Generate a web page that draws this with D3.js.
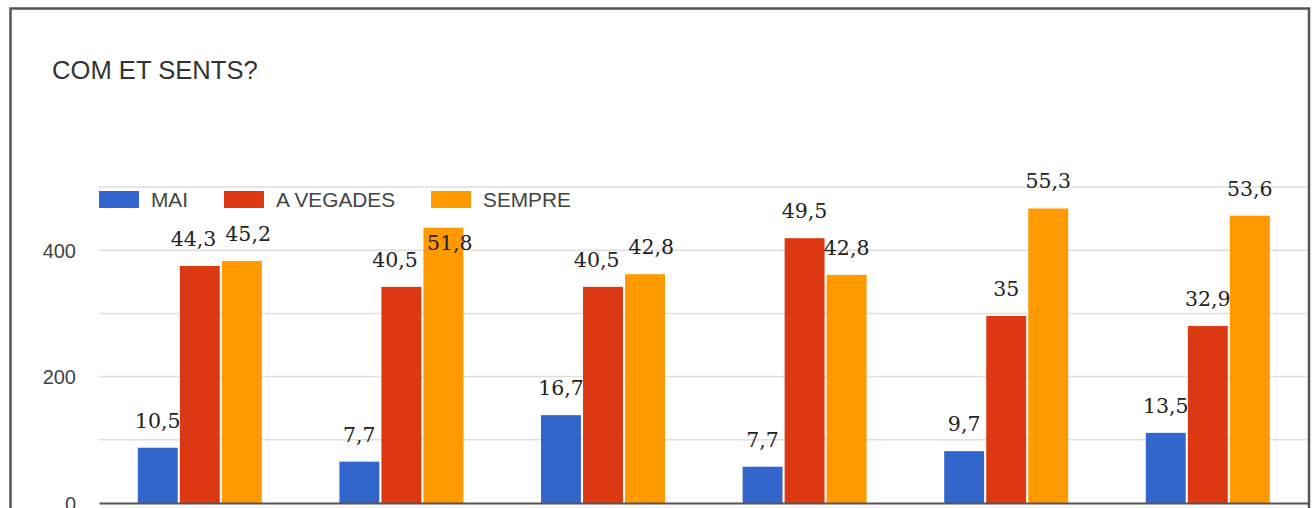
<!DOCTYPE html>
<html>
<head>
<meta charset="utf-8">
<script src="https://cdn.jsdelivr.net/npm/d3@7/dist/d3.min.js"></script>
<style>
  html, body { margin: 0; padding: 0; background: #fff; }
  svg { display: block; }
</style>
</head>
<body>
<svg id="chart" width="1314" height="508"></svg>
<script>
// ---- data ----
const title = "COM ET SENTS?";
const categories = ["1", "2", "3", "4", "5", "6"];
const seriesNames = ["MAI", "A VEGADES", "SEMPRE"];
const seriesColors = ["#3366cc", "#dc3912", "#ff9900"];
// bar heights (counts)
const maiValues = [87.5, 65.4, 139, 57.4, 82, 111];
const aVegadesValues = [375, 342, 342, 419, 296, 280];
const sempreValues = [383, 435.6, 362, 361, 466, 454.6];
// percentage labels
const maiPct = [10.5, 7.7, 16.7, 7.7, 9.7, 13.5];
const aVegadesPct = [44.3, 40.5, 40.5, 49.5, 35, 32.9];
const semprePct = [45.2, 51.8, 42.8, 42.8, 55.3, 53.6];
const yTicks = [0, 200, 400];
const yGrid = [100, 200, 300, 400, 500];
const yMax = 500;

// ---- build ----
const values = [maiValues, aVegadesValues, sempreValues];
const pcts = [maiPct, aVegadesPct, semprePct];
const rows = categories.map((c, i) => ({
  cat: c,
  bars: seriesNames.map((s, k) => ({ series: s, k, value: values[k][i], pct: pcts[k][i] }))
}));

const svg = d3.select("#chart");
const W = 1314, H = 508;
const plot = { left: 99, right: 1308.6, top: 187, bottom: 503 };

svg.append("rect").attr("width", W).attr("height", H).attr("fill", "#fff");

const x0 = d3.scaleBand().domain(categories).range([plot.left, plot.right])
  .paddingInner(0.385).paddingOuter(0.1925);
const x1 = d3.scaleBand().domain(seriesNames).range([0, x0.bandwidth()]).paddingInner(0.05);
const y = d3.scaleLinear().domain([0, yMax]).range([plot.bottom, plot.top]);

// gridlines
svg.append("g").selectAll("line").data(yGrid).join("line")
  .attr("x1", plot.left).attr("x2", plot.right)
  .attr("y1", d => y(d)).attr("y2", d => y(d))
  .attr("stroke", "#dedede").attr("stroke-width", 1.5);

// y axis labels
const yAxis = d3.axisLeft(y).tickValues(yTicks).tickSize(0).tickPadding(0).tickFormat(d3.format("d"));
const gy = svg.append("g").attr("transform", `translate(76,0)`).call(yAxis);
gy.select(".domain").remove();
gy.selectAll("text").attr("font-family", "'Liberation Sans', Arial, sans-serif")
  .attr("font-size", 20).attr("fill", "#444").attr("dy", "0.35em");

// bars
const groups = svg.append("g").selectAll("g").data(rows).join("g")
  .attr("transform", d => `translate(${x0(d.cat)},0)`);
groups.selectAll("rect").data(d => d.bars).join("rect")
  .attr("x", d => x1(d.series)).attr("width", x1.bandwidth())
  .attr("y", d => y(d.value)).attr("height", d => y(0) - y(d.value))
  .attr("fill", d => seriesColors[d.k]);

// x axis baseline (category labels are outside the visible frame)
const xAxis = d3.axisBottom(x0).tickSize(0).tickFormat(() => "");
const gx = svg.append("g").attr("transform", `translate(0,${plot.bottom})`).call(xAxis);
gx.select(".domain").attr("stroke", "#555").attr("stroke-width", 2);
gx.selectAll("text").remove();

// legend
const legend = svg.append("g").attr("transform", `translate(${plot.left},191)`);
let lx = 0;
seriesNames.forEach((s, k) => {
  const g = legend.append("g").attr("transform", `translate(${lx},0)`);
  g.append("rect").attr("width", 40).attr("height", 17).attr("fill", seriesColors[k]);
  const t = g.append("text").attr("x", 52).attr("y", 16)
    .attr("font-family", "'Liberation Sans', Arial, sans-serif")
    .attr("font-size", 20.8).attr("fill", "#444").text(s);
  lx += 52 + t.node().getComputedTextLength() + 36;
});
const legendBox = legend.node().getBBox();
const legendBottom = 191 + legendBox.height;
const legendRight = plot.left + legendBox.width;

// value labels
const fmt = v => String(v).replace(".", ",");
const labels = groups.selectAll("text.val").data(d => d.bars).join("text")
  .attr("class", "val")
  .attr("x", d => x1(d.series) + x1.bandwidth() / 2)
  .attr("y", d => y(d.value) - 20)
  .attr("text-anchor", "middle")
  .attr("font-family", "'DejaVu Serif', serif")
  .attr("font-size", 20.5)
  .attr("fill", "#222")
  .text(d => fmt(d.pct));

// labels that would sit under the legend go inside the top of their bar
groups.each(function (row) {
  const gX = x0(row.cat);
  d3.select(this).selectAll("text.val").each(function (d) {
    const b = this.getBBox();
    if (gX + b.x < legendRight && b.y < legendBottom + 2) {
      this.setAttribute("y", y(d.value) + 22);
    }
  });
});

// simple collision avoidance within each group
groups.each(function () {
  const ts = d3.select(this).selectAll("text.val").nodes();
  for (let i = 0; i < ts.length - 1; i++) {
    const a = ts[i].getBBox(), b = ts[i + 1].getBBox();
    const vOverlap = Math.min(a.y + a.height, b.y + b.height) - Math.max(a.y, b.y);
    const hOverlap = (a.x + a.width + 9) - b.x;
    if (vOverlap > 0 && hOverlap > 0) {
      const s = hOverlap / 2;
      ts[i].setAttribute("x", +ts[i].getAttribute("x") - s);
      ts[i + 1].setAttribute("x", +ts[i + 1].getAttribute("x") + s);
    }
  }
});

// title
svg.append("text").attr("x", 52).attr("y", 79)
  .attr("font-family", "'Liberation Sans', Arial, sans-serif")
  .attr("font-size", 25.6).attr("fill", "#333").text(title);

// outer frame
svg.append("rect").attr("x", 10.5).attr("y", 8.5).attr("width", 1298.5).attr("height", 520)
  .attr("fill", "none").attr("stroke", "#555").attr("stroke-width", 2.5);
</script>
</body>
</html>
